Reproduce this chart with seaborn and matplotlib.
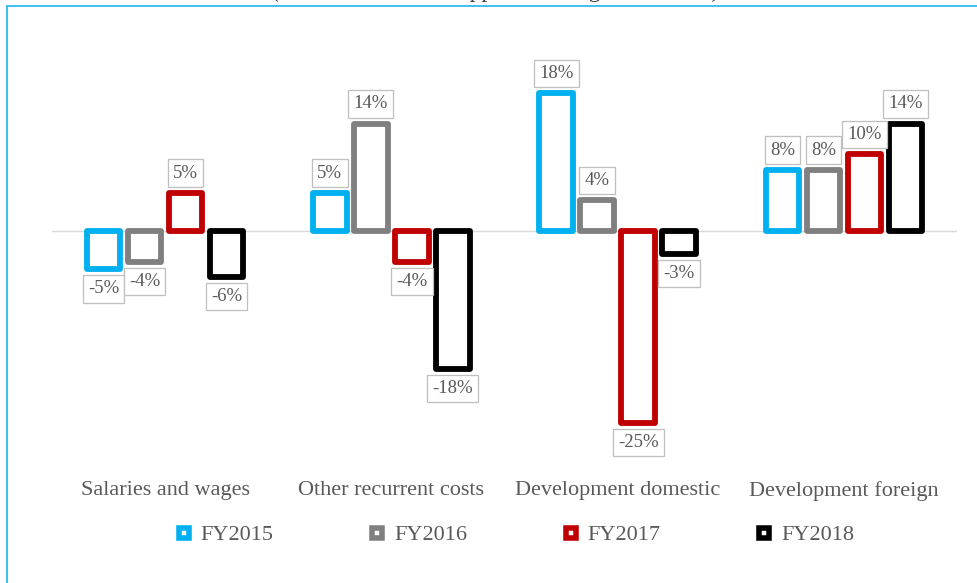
import numpy as np
import pandas as pd
import matplotlib.pyplot as plt
import seaborn as sns
from matplotlib.lines import Line2D
from matplotlib.patches import Rectangle

# data (% deviation)
categories = ["Salaries and wages", "Other recurrent costs",
              "Development domestic", "Development foreign"]
years = ["FY2015", "FY2016", "FY2017", "FY2018"]
fy2015 = [-5, 5, 18, 8]
fy2016 = [-4, 14, 4, 8]
fy2017 = [5, -4, -25, 10]
fy2018 = [-6, -18, -3, 14]
colors = ["#00B0F0", "#808080", "#C00000", "#000000"]
title = "(deviation from the approved budget estimates)"

df = pd.DataFrame({
    "category": categories * 4,
    "year": np.repeat(years, 4),
    "value": fy2015 + fy2016 + fy2017 + fy2018,
})

sns.set_style("white")
plt.rcParams["font.family"] = ["Liberation Serif", "DejaVu Serif"]
text_col = "#595959"

fig = plt.figure(figsize=(9.77, 5.83), dpi=100)
ax = fig.add_axes([52 / 977, 1 - 470 / 583, 905 / 977, 430 / 583])

sns.barplot(data=df, x="category", y="value", hue="year", order=categories,
            hue_order=years, palette=colors, width=0.725, gap=0.18,
            fill=False, linewidth=4.2, legend=False, ax=ax, zorder=3)

for p in ax.patches:
    p.set_joinstyle("round")

ax.axhline(0, color="#D9D9D9", linewidth=1, zorder=1)
ax.set_xlim(-0.5, 3.5)
ax.set_ylim(-31.16, 24.9)
ax.set_yticks([])
ax.set_xlabel("")
ax.set_ylabel("")
ax.tick_params(axis="x", length=0, pad=8, labelsize=16, labelcolor=text_col)
for s in ax.spines.values():
    s.set_visible(False)

# value labels in small boxes
for cont, vals in zip(ax.containers, [fy2015, fy2016, fy2017, fy2018]):
    ax.bar_label(cont, labels=[f"{v}%" for v in vals], padding=8,
                 fontsize=13.5, color=text_col,
                 bbox=dict(boxstyle="square,pad=0.28", fc="white",
                           ec="#BFBFBF", lw=0.9))

handles = [Line2D([], [], linestyle="none", marker="s", markersize=7.5,
                  markerfacecolor="white", markeredgecolor=c,
                  markeredgewidth=4) for c in colors]
fig.legend(handles, years, loc="center", ncol=4, frameon=False,
           bbox_to_anchor=(515 / 977, 1 - 535 / 583), fontsize=16,
           handlelength=0.7, handletextpad=0.4, columnspacing=4.32,
           borderpad=0, labelcolor=text_col)

# outer chart border and clipped title
fig.patches.append(Rectangle((7 / 977, -0.1), 1.2, 0.1 + (1 - 6 / 583),
                             transform=fig.transFigure, fill=False,
                             ec="#1EB4F0", lw=1.2))
fig.text(495 / 977, 1 + 3 / 583, title, ha="center", va="baseline",
         fontsize=17, color="#404040")

fig.savefig("out.png", dpi=100)
